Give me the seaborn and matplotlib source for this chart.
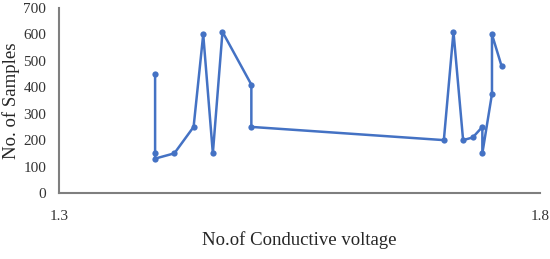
import pandas as pd
from matplotlib import pyplot as plt
import seaborn as sns

# values, in drawing order
voltage = [1.40, 1.40, 1.40, 1.42, 1.44, 1.45, 1.46, 1.47, 1.50, 1.50,
           1.70, 1.71, 1.72, 1.73, 1.74, 1.74, 1.75, 1.75, 1.76]
samples = [450, 150, 130, 150, 250, 600, 150, 610, 410, 250,
           200, 610, 200, 210, 250, 150, 375, 600, 480]
x_ticks = [1.3, 1.8]
y_ticks = [0, 100, 200, 300, 400, 500, 600, 700]

data = pd.DataFrame({'voltage': voltage, 'samples': samples})

sns.set_style('white')
plt.rcParams['font.family'] = ['Liberation Serif', 'DejaVu Serif']

fig = plt.figure(figsize=(5.5, 2.59), dpi=100)
ax = fig.add_axes([0.107, 0.255, 0.875, 0.714])

sns.lineplot(data=data, x='voltage', y='samples', sort=False, estimator=None,
             color='#4472C4', linewidth=1.8, marker='o', markersize=4.5,
             markeredgewidth=0, ax=ax)

ax.set_xlim(1.3, 1.8)
ax.set_ylim(0, 700)
ax.set_xticks(x_ticks)
ax.set_xticklabels([str(v) for v in x_ticks])
ax.set_yticks(y_ticks)
ax.tick_params(axis='x', length=0, pad=12, labelsize=11, colors='#333333')
ax.tick_params(axis='y', length=0, pad=9, labelsize=11, colors='#333333')

for side in ['top', 'right']:
    ax.spines[side].set_visible(False)
for side in ['left', 'bottom']:
    ax.spines[side].set_color('#7f7f7f')
    ax.spines[side].set_linewidth(1.5)

ax.set_xlabel('No.of Conductive voltage', fontsize=13.5, color='#262626', labelpad=6)
ax.set_ylabel('No. of Samples', fontsize=13.5, color='#262626')
# label sits close to the left edge of the picture
ax.yaxis.set_label_coords(-0.08, 0.5)

plt.savefig('out.png', dpi=100)
plt.close()
